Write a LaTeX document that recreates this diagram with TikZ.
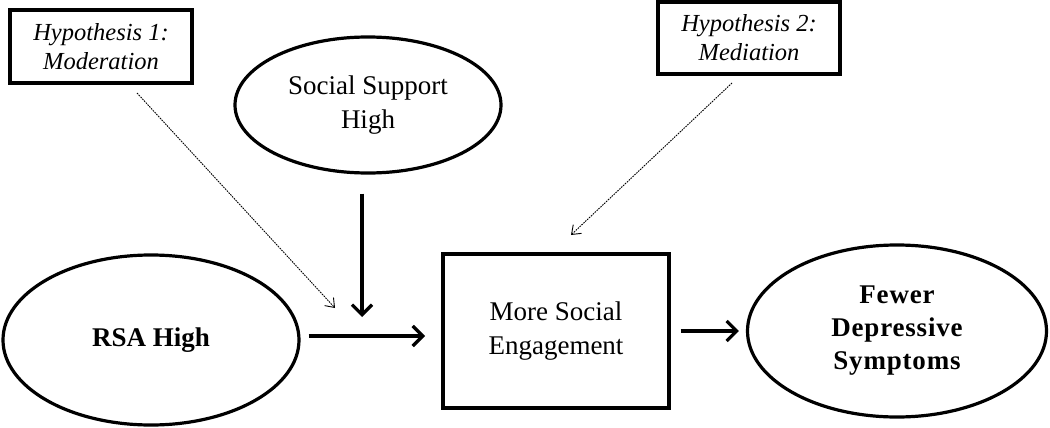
\documentclass[tikz,border=0pt]{standalone}
\usepackage{fontspec}
\setmainfont{Liberation Serif}
\usetikzlibrary{shapes.geometric,arrows.meta}
\begin{document}
\begin{tikzpicture}[x=1pt,y=-1pt,
  oval/.style={ellipse,draw,line width=3.2pt,inner sep=0pt,align=center,
    font=\fontsize{27}{34}\selectfont},
  mainbox/.style={rectangle,draw,line width=3.2pt,inner sep=0pt,align=center,
    font=\fontsize{27}{34}\selectfont},
  hypbox/.style={rectangle,draw,line width=3.2pt,inner sep=0pt,align=center,
    font=\fontsize{24.5}{29}\selectfont\itshape},
  bigarrow/.style={line width=3.2pt,-{Straight Barb[length=10pt,width=20pt,line width=3.2pt]}},
  thinarrow/.style={line width=0.9pt,dash pattern=on 1.6pt off 1pt,-{Straight Barb[length=8pt,width=12pt,line width=0.9pt]}}
]
\useasboundingbox (0,0) rectangle (1050,428);
\node[hypbox,minimum width=182pt,minimum height=73pt] (h1) at (101,46.5) {Hypothesis 1:\\Moderation};
\node[hypbox,minimum width=182pt,minimum height=72pt] (h2) at (749,38) {Hypothesis 2:\\Mediation};
\node[oval,minimum width=266pt,minimum height=136pt] (ss) at (368,105) {Social Support\\High};
\node[oval,minimum width=296pt,minimum height=170pt,font=\fontsize{27}{34}\selectfont\bfseries] (rsa) at (151,340) {RSA High};
\node[mainbox,minimum width=226pt,minimum height=154pt] (eng) at (556,331) {More Social\\Engagement};
\node[oval,minimum width=299pt,minimum height=172pt,font=\fontsize{27}{33}\selectfont\bfseries\addfontfeatures{LetterSpace=3}] (few) at (897,331) {Fewer\\Depressive\\Symptoms};
\coordinate (modpt) at (362,317);
\coordinate (horend) at (425,336);
\coordinate (h1end) at (335,308);
\coordinate (h2start) at (732,83);
\coordinate (h2end) at (571,235);
\coordinate (h1start) at (137,93);
\draw[bigarrow,shorten <=19pt] (ss.south -| modpt) -- (modpt);
\draw[bigarrow,shorten <=8pt] (rsa.east |- horend) -- (horend);
\draw[bigarrow,shorten <=10pt,shorten >=7pt] (eng.east) -- (eng.east -| few.west);
\draw[thinarrow] (h1start) -- (h1end);
\draw[thinarrow] (h2start) -- (h2end);
\end{tikzpicture}
\end{document}
